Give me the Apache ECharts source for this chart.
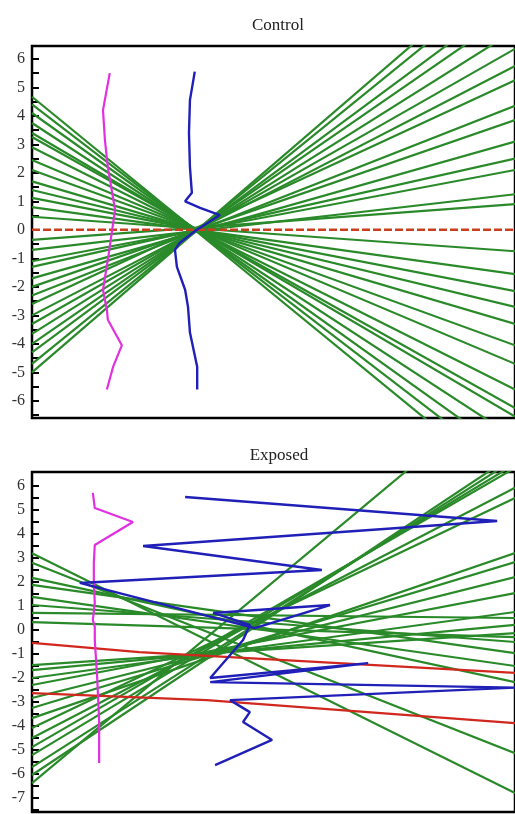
<!DOCTYPE html>
<html><head><meta charset="utf-8">
<script src="https://cdn.jsdelivr.net/npm/echarts@6/dist/echarts.min.js"></script>
<style>html,body{margin:0;padding:0;background:#fff}#c{width:515px;height:814px}</style>
</head><body><div id="c"></div>
<script>
// ---------- tick labels ----------
const controlTicks = [6,5,4,3,2,1,0,-1,-2,-3,-4,-5,-6];
const exposedTicks = [6,5,4,3,2,1,0,-1,-2,-3,-4,-5,-6,-7];

// ---------- Control panel ----------
const lineEndsX = [0, 100];
const controlGreenLeft  = [4.67,4.4,4.1,3.75,3.4,3.26,2.9,2.45,2.1,1.7,1.4,1.12,0.8,0.46,
                           -0.35,-0.7,-1.1,-1.3,-1.7,-2.0,-2.3,-2.6,-3.0,-3.3,-3.65,-4.0,-4.3,-4.7,-5.0];
const controlGreenRight = [-9.2,-8.6,-8.0,-7.3,-6.55,-6.25,-5.6,-4.7,-4.05,-3.3,-2.7,-2.15,-1.55,-0.75,
                           0.9,1.25,2.1,2.5,3.1,3.85,4.35,5.25,5.75,6.35,7.0,7.7,8.25,9.05,9.6];
const controlRedX = [0, 100];
const controlRedY = [0, 0];
const controlMagentaX = [16.1,14.7,15.1,15.7,16.6,17.2,16.6,15.7,14.7,15.5,15.7,18.6,16.8,15.5];
const controlMagentaY = [5.5,4.2,3.15,2.2,1.3,0.7,0,-1.05,-2.1,-2.8,-3.15,-4.05,-4.8,-5.6];
const controlBlueX = [33.7,32.7,32.5,32.7,33.1,31.7,34.8,38.9,33.7,30.6,29.6,30.0,31.7,32.3,32.7,34.2,34.2];
const controlBlueY = [5.55,4.55,3.4,2.2,1.3,1.0,0.77,0.52,-0.05,-0.45,-0.7,-1.3,-2.1,-2.7,-3.6,-4.8,-5.6];

// ---------- Exposed panel ----------
const exposedGreenLeft  = [3.2,2.8,2.17,1.88,1.38,1.04,0.71,0.33,
                           -1.46,-1.67,-2.0,-2.29,-2.83,-3.25,-3.67,-4.08,-4.5,-4.88,-5.21,-5.71,-6.04,-6.38];
const exposedGreenRight = [-6.79,-5.13,-2.17,-0.96,-1.5,-0.5,0.5,-0.3,
                           -0.13,0.21,0.75,1.54,2.2,2.83,3.2,5.5,5.92,6.75,6.91,7.12,7.33,10.4];
const exposedRed1X = [0, 22.2, 100];
const exposedRed1Y = [-0.54, -0.92, -1.79];
const exposedRed2X = [0, 36.2, 100];
const exposedRed2Y = [-2.63, -2.92, -3.88];
const exposedMagentaX = [12.6,13.0,20.9,13.0,12.8,12.8,13.0,12.6,13.0,13.0,13.5,13.9,13.9];
const exposedMagentaY = [5.71,5.08,4.5,3.54,2.79,2.0,1.13,0.42,0.13,-0.42,-2.0,-3.75,-5.54];
const exposedBlueX = [31.7,96.3,23.0,60.0,9.9,46.1,61.7,37.5,45.1,43.7,36.9,69.6,36.9,100,41.0,45.1,43.7,49.7,37.9];
const exposedBlueY = [5.54,4.54,3.5,2.5,1.96,0.08,1.04,0.71,0.21,-0.42,-2.0,-1.38,-2.17,-2.4,-2.92,-3.42,-3.83,-4.58,-5.63];

// ---------- helpers ----------
const zip = (xs, ys) => xs.map((x, i) => [x, ys[i]]);
const halfTicks = t => t.flatMap(v => [v, v - 0.5]);
const GREEN = '#2a8a2a';
function lineSeries(idx, data, color, width, type) {
  return {type: 'line', xAxisIndex: idx, yAxisIndex: idx, data: data, symbol: 'none',
          silent: true, animation: false, clip: true,
          lineStyle: {color: color, width: width, type: type || 'solid'}};
}
const series = [];
controlGreenLeft.forEach((l, i) => series.push(lineSeries(0, zip(lineEndsX, [l, controlGreenRight[i]]), GREEN, 2.2)));
series.push(lineSeries(0, zip(controlRedX, controlRedY), '#c8401e', 2.5, [8, 3]));
series.push(lineSeries(0, zip(controlMagentaX, controlMagentaY), '#e030e0', 2.2));
series.push(lineSeries(0, zip(controlBlueX, controlBlueY), '#2020b8', 2.4));
exposedGreenLeft.forEach((l, i) => series.push(lineSeries(1, zip(lineEndsX, [l, exposedGreenRight[i]]), GREEN, 2.2)));
series.push(lineSeries(1, zip(exposedRed1X, exposedRed1Y), '#d0281e', 2.2));
series.push(lineSeries(1, zip(exposedRed2X, exposedRed2Y), '#d0281e', 2.2));
series.push(lineSeries(1, zip(exposedMagentaX, exposedMagentaY), '#e030e0', 2.2));
series.push(lineSeries(1, zip(exposedBlueX, exposedBlueY), '#2020b8', 2.4));

const SERIF = '"Liberation Serif", "DejaVu Serif", serif';
function yAxis(idx, min, max, ticks) {
  return {
    type: 'value', gridIndex: idx, min: min, max: max,
    axisLine: {show: false},
    splitLine: {show: false},
    axisTick: {show: true, inside: true, length: 7, customValues: halfTicks(ticks),
               lineStyle: {color: '#000', width: 2}},
    axisLabel: {show: true, customValues: ticks, margin: 7, color: '#333',
                fontFamily: SERIF, fontSize: 16}
  };
}
function xAxis(idx) {
  return {type: 'value', gridIndex: idx, min: 0, max: 100,
          axisLine: {show: false}, axisTick: {show: false}, axisLabel: {show: false}, splitLine: {show: false}};
}
const chart = echarts.init(document.getElementById('c'), null, {renderer: 'canvas'});
chart.setOption({
  backgroundColor: '#fff',
  animation: false,
  title: [
    {text: 'Control', left: 273, top: 12, textAlign: 'center',
     textStyle: {fontFamily: SERIF, fontSize: 17, fontWeight: 'normal', color: '#222'}},
    {text: 'Exposed', left: 274, top: 442, textAlign: 'center',
     textStyle: {fontFamily: SERIF, fontSize: 17, fontWeight: 'normal', color: '#222'}}
  ],
  grid: [
    {left: 32, top: 46, width: 486, height: 372, show: true, borderColor: '#000', borderWidth: 2.5, backgroundColor: 'transparent'},
    {left: 32, top: 472, width: 486, height: 340, show: true, borderColor: '#000', borderWidth: 2.5, backgroundColor: 'transparent'}
  ],
  xAxis: [xAxis(0), xAxis(1)],
  yAxis: [yAxis(0, -6.6, 6.45, controlTicks), yAxis(1, -7.58, 6.58, exposedTicks)],
  series: series
});
</script></body></html>
